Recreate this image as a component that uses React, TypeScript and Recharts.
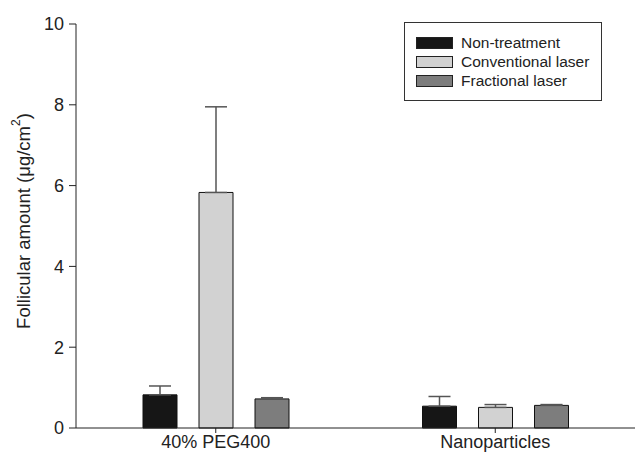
import React from 'react';
import { BarChart, Bar, XAxis, YAxis, ErrorBar, Label } from 'recharts';

const categories = ['40% PEG400', 'Nanoparticles'];
const nonTreatment = [0.82, 0.54];
const nonTreatmentErr = [0.22, 0.24];
const conventional = [5.83, 0.51];
const conventionalErr = [2.12, 0.07];
const fractional = [0.72, 0.56];
const fractionalErr = [0.03, 0.02];
const yTicks = [0, 2, 4, 6, 8, 10];

const seriesNames = ['Non-treatment', 'Conventional laser', 'Fractional laser'];
const seriesColors = ['#161616', '#d2d2d2', '#7d7d7d'];

const data = categories.map((c, i) => ({
  name: c,
  nt: nonTreatment[i],
  ntErr: [0, nonTreatmentErr[i]],
  cl: conventional[i],
  clErr: [0, conventionalErr[i]],
  fl: fractional[i],
  flErr: [0, fractionalErr[i]],
}));

const FONT = 'Arial, "Liberation Sans", sans-serif';

const LegendBox = () => (
  <div
    style={{
      position: 'absolute',
      left: 404,
      top: 22,
      border: '1px solid #333',
      width: 196,
      height: 77,
      boxSizing: 'content-box',
      fontFamily: FONT,
      fontSize: 15.5,
      color: '#222',
      background: '#fff',
    }}
  >
    {seriesNames.map((n, i) => (
      <div
        key={n}
        style={{
          position: 'absolute',
          left: 11,
          top: 14 + i * 19,
          display: 'flex',
          alignItems: 'center',
          height: 12,
        }}
      >
        <span
          style={{
            display: 'inline-block',
            width: 35,
            height: 10,
            background: seriesColors[i],
            border: '1px solid #222',
            marginRight: 8,
          }}
        />
        <span style={{ lineHeight: '12px', whiteSpace: 'nowrap' }}>{n}</span>
      </div>
    ))}
  </div>
);

const YLabel = (props: any) => {
  const vb = props.viewBox || { x: 0, y: 24, width: 76, height: 404 };
  const cx = vb.x + 23;
  const cy = vb.y + vb.height / 2 - 5;
  return (
    <text
      x={cx}
      y={cy}
      transform={`rotate(-90, ${cx}, ${cy})`}
      textAnchor="middle"
      dominantBaseline="central"
      fontFamily={FONT}
      fontSize={18.5}
      fill="#222"
    >
      <tspan>Follicular amount (μg/cm</tspan>
      <tspan baselineShift="super" fontSize={12}>2</tspan>
      <tspan>)</tspan>
    </text>
  );
};

export default function App() {
  return (
    <div style={{ position: 'absolute', left: 0, top: 0, width: 635, height: 455, background: '#fff' }}>
      <BarChart
        width={635}
        height={455}
        data={data}
        margin={{ top: 24, right: 0, bottom: 0, left: 0 }}
        barSize={34}
        barGap={22}
      >
        <XAxis
          dataKey="name"
          height={27}
          tickSize={5}
          tickMargin={2}
          stroke="#222"
          tick={{ fill: '#222', fontSize: 18, fontFamily: FONT }}
        />
        <YAxis
          width={76}
          domain={[0, 10]}
          ticks={yTicks}
          tickSize={7}
          tickMargin={5}
          stroke="#222"
          tick={{ fill: '#222', fontSize: 18, fontFamily: FONT }}
        >
          <Label content={<YLabel />} />
        </YAxis>
        <Bar dataKey="nt" name={seriesNames[0]} fill={seriesColors[0]} stroke="#111" strokeWidth={1} isAnimationActive={false}>
          <ErrorBar dataKey="ntErr" width={11} stroke="#555" strokeWidth={1.5} direction="y" isAnimationActive={false} />
        </Bar>
        <Bar dataKey="cl" name={seriesNames[1]} fill={seriesColors[1]} stroke="#111" strokeWidth={1} isAnimationActive={false}>
          <ErrorBar dataKey="clErr" width={11} stroke="#555" strokeWidth={1.5} direction="y" isAnimationActive={false} />
        </Bar>
        <Bar dataKey="fl" name={seriesNames[2]} fill={seriesColors[2]} stroke="#111" strokeWidth={1} isAnimationActive={false}>
          <ErrorBar dataKey="flErr" width={11} stroke="#555" strokeWidth={1.5} direction="y" isAnimationActive={false} />
        </Bar>
      </BarChart>
      <LegendBox />
    </div>
  );
}
